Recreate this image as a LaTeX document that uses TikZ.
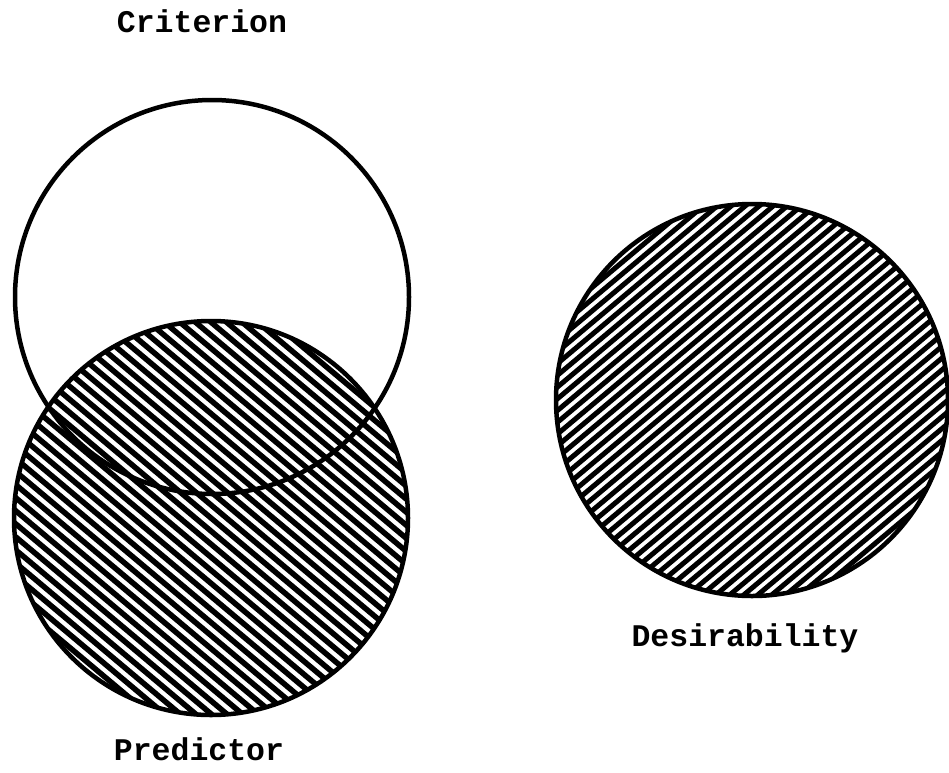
\documentclass[tikz,border=0pt]{standalone}
\usepackage{fontspec}
\setmonofont{Liberation Mono}
\begin{document}
\begin{tikzpicture}[x=1pt,y=-1pt,
  ring/.style={draw=black,line width=4.5pt},
  hatch/.style={draw=black,line width=5.5pt},
  label/.style={font=\ttfamily\bfseries\fontsize{31.5}{36}\selectfont,anchor=base,inner sep=0pt}]
\useasboundingbox (0,0) rectangle (949,772);
\coordinate (crit) at (212,297);
\coordinate (pred) at (211,518);
\coordinate (desi) at (752,400);
% predictor hatching
\begin{scope}
  \clip (pred) circle (197);
  \begin{scope}[shift={(pred)},rotate=-40]
    \foreach \d in {-220,-210,...,220} \draw[hatch] (-220,\d) -- (220,\d);
  \end{scope}
\end{scope}
% desirability hatching
\begin{scope}
  \clip (desi) circle (196);
  \begin{scope}[shift={(desi)},rotate=40]
    \foreach \d in {-216,-207,...,216} \draw[hatch,line width=5pt] (-220,\d) -- (220,\d);
  \end{scope}
\end{scope}
\draw[ring] (crit) circle (197);
\draw[ring] (pred) circle (197);
\draw[ring] (desi) circle (196);
\node[label] (lcrit) at (202,32) {Criterion};
\node[label] (lpred) at (199,760) {Predictor};
\node[label] (ldesi) at (745,646) {Desirability};
\end{tikzpicture}
\end{document}
